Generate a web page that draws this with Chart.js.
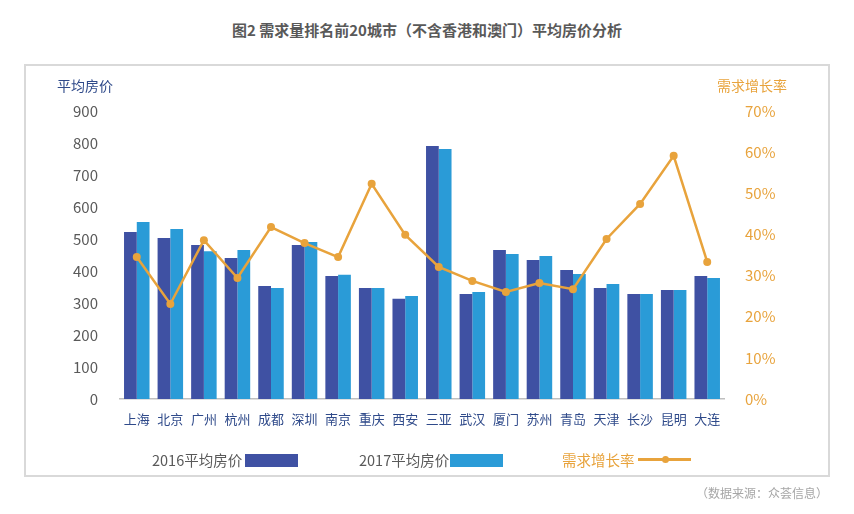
<!DOCTYPE html>
<html>
<head>
<meta charset="utf-8">
<script src="https://cdn.jsdelivr.net/npm/chart.js@4"></script>
<style>
  body { margin: 0; width: 854px; height: 514px; background: #fff; font-family: "Noto Sans CJK SC", "Noto Sans", sans-serif; position: relative; overflow: hidden; }
  #title { position: absolute; top: 19px; left: 0; width: 854px; text-align: center; font-size: 15px; font-weight: bold; color: #595959; }
  #frame { position: absolute; left: 24px; top: 64px; width: 802px; height: 409px; border: 2px solid #d9d9d9; }
  #wrap { position: absolute; left: 0; top: 0; width: 854px; height: 514px; }
  .lg { position: absolute; top: 450px; font-size: 14.5px; color: #595959; line-height: 20px; white-space: nowrap; }
  .box { position: absolute; top: 454px; height: 13px; }
  #source { position: absolute; right: 26px; top: 484px; font-size: 12px; color: #a6a6a6; }
</style>
</head>
<body>
<div id="title">图2 需求量排名前20城市（不含香港和澳门）平均房价分析</div>
<div id="frame"></div>
<div id="wrap"><canvas id="chart" width="854" height="514"></canvas></div>

<div class="lg" style="left:152px;">2016平均房价</div>
<div class="box" style="left:245px; width:53px; background:#3f51a3;"></div>
<div class="lg" style="left:359px;">2017平均房价</div>
<div class="box" style="left:450px; width:53px; background:#2a9bd7;"></div>
<div class="lg" style="left:562px; color:#e8a33c;">需求增长率</div>
<div style="position:absolute; left:638px; top:458px; width:53px; height:3px; background:#e8a33c;"></div>
<div style="position:absolute; left:662px; top:456px; width:7px; height:7px; border-radius:50%; background:#e8a33c;"></div>
<div id="source">（数据来源：众荟信息）</div>

<script>
// 数据
const cities = ['上海', '北京', '广州', '杭州', '成都', '深圳', '南京', '重庆', '西安', '三亚',
                '武汉', '厦门', '苏州', '青岛', '天津', '长沙', '昆明', '大连'];
const price2016 = [522, 503, 481, 441, 353, 481, 384, 347, 313, 791, 328, 466, 434, 403, 347, 328, 341, 384];
const price2017 = [553, 531, 462, 466, 347, 491, 388, 347, 322, 781, 334, 453, 447, 391, 359, 328, 341, 378];
const growthRate = [34.5, 23.1, 38.6, 29.4, 41.8, 37.9, 34.5, 52.3, 39.9, 32.1,
                    28.7, 26.0, 28.2, 26.7, 38.9, 47.4, 59.1, 33.3];
const priceTicks = [0, 900, 100];
const rateTicks = [0, 70, 10];

const cjk = '"Noto Sans CJK SC", "Noto Sans", sans-serif';

// 坐标轴标题
const axisTitles = {
    id: 'axisTitles',
    afterDraw(chart) {
        const ctx = chart.ctx;
        ctx.save();
        ctx.font = '14px ' + cjk;
        ctx.textBaseline = 'middle';
        ctx.textAlign = 'left';
        ctx.fillStyle = '#2f4a8a';
        ctx.fillText('平均房价', 57, 86);
        ctx.fillStyle = '#e8a33c';
        ctx.fillText('需求增长率', 717, 86);
        ctx.restore();
    }
};

const ctx = document.getElementById('chart').getContext('2d');
new Chart(ctx, {
    data: {
        labels: cities,
        datasets: [
            {
                type: 'line',
                label: '需求增长率',
                data: growthRate,
                yAxisID: 'y2',
                borderColor: '#e8a33c',
                backgroundColor: '#e8a33c',
                borderWidth: 2.5,
                pointRadius: 4,
                pointBackgroundColor: '#e8a33c',
                pointBorderWidth: 0,
                tension: 0,
                order: 0
            },
            {
                type: 'bar',
                label: '2016平均房价',
                data: price2016,
                yAxisID: 'y',
                backgroundColor: '#3f51a3',
                categoryPercentage: 0.76,
                barPercentage: 1,
                order: 1
            },
            {
                type: 'bar',
                label: '2017平均房价',
                data: price2017,
                yAxisID: 'y',
                backgroundColor: '#2a9bd7',
                categoryPercentage: 0.76,
                barPercentage: 1,
                order: 1
            }
        ]
    },
    options: {
        responsive: false,
        animation: false,
        layout: { padding: { top: 111, bottom: 0, left: 0, right: 0 } },
        plugins: { legend: { display: false }, tooltip: { enabled: false } },
        scales: {
            x: {
                grid: { display: false, drawTicks: false },
                border: { display: true, color: '#bfbfbf', width: 1.5 },
                ticks: { color: '#2f4a8a', font: { family: cjk, size: 13 }, padding: 12, maxRotation: 0, autoSkip: false },
                afterFit(scale) { scale.height = 115; }
            },
            y: {
                position: 'left',
                min: priceTicks[0], max: priceTicks[1],
                ticks: { stepSize: priceTicks[2], color: '#595959', font: { family: cjk, size: 15 }, padding: 22 },
                grid: { display: false, drawTicks: false },
                border: { display: false },
                afterFit(scale) { scale.width = 120; }
            },
            y2: {
                position: 'right',
                min: rateTicks[0], max: rateTicks[1],
                ticks: { stepSize: rateTicks[2], color: '#e8a33c', font: { family: cjk, size: 15 }, padding: 21,
                         callback: v => v + '%' },
                grid: { display: false, drawTicks: false },
                border: { display: false },
                afterFit(scale) { scale.width = 130; }
            }
        }
    },
    plugins: [axisTitles]
});
</script>
</body>
</html>
